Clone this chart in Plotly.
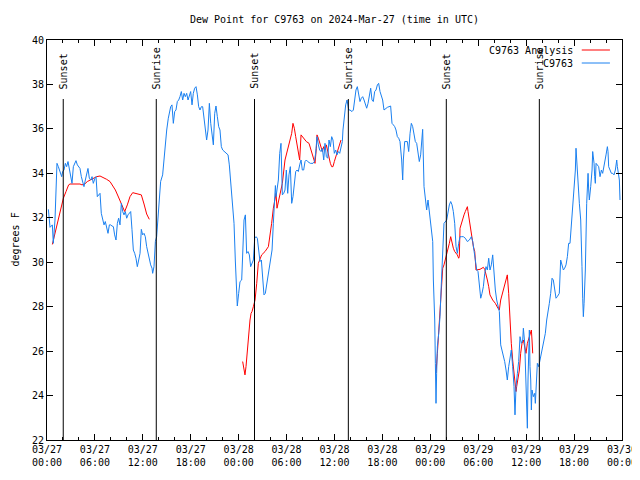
import pandas as pd
import plotly.graph_objects as go

base_time = pd.Timestamp("2024-03-27 00:00")

# ---- C9763 observations (hours after 2024-03-27 00:00 UTC, degrees F) ----
blue_hours = [
    0.17, 0.38, 0.67, 0.79, 1.00, 1.13, 1.25, 1.42, 1.54, 1.71,
    1.84, 1.96, 2.13, 2.30, 2.46, 2.63, 2.80, 2.96, 3.13, 3.30,
    3.46, 3.63, 3.80, 3.97, 4.13, 4.30, 4.47, 4.63, 4.80, 4.97,
    5.13, 5.30, 5.47, 5.64, 5.80, 6.01, 6.14, 6.30, 6.47, 6.64,
    6.80, 6.97, 7.14, 7.30, 7.47, 7.64, 7.81, 7.97, 8.14, 8.31,
    8.47, 8.64, 8.81, 8.97, 9.14, 9.31, 9.48, 9.64, 9.81, 9.98,
    10.14, 10.31, 10.48, 10.64, 10.81, 10.98, 11.14, 11.31, 11.48, 11.65,
    11.81, 11.98, 12.15, 12.31, 12.48, 12.65, 12.81, 12.98, 13.15, 13.23,
    13.40, 13.57, 13.73, 13.94, 14.07, 14.23, 14.48, 14.65, 14.82, 14.99,
    15.19, 15.32, 15.49, 15.65, 15.82, 15.99, 16.15, 16.32, 16.49, 16.65,
    16.82, 16.99, 17.16, 17.32, 17.49, 17.66, 17.82, 17.99, 18.16, 18.32,
    18.49, 18.66, 18.83, 18.99, 19.16, 19.33, 19.49, 19.66, 19.83, 19.99,
    20.16, 20.33, 20.50, 20.66, 20.83, 21.00, 21.16, 21.33, 21.50, 21.66,
    21.83, 22.00, 22.25, 22.50, 22.67, 22.83, 23.00, 23.17, 23.25, 23.42,
    23.58, 23.75, 23.83, 24.00, 24.17, 24.38, 24.50, 24.67, 24.84, 25.00,
    25.17, 25.34, 25.50, 25.67, 25.84, 26.01, 26.17, 26.34, 26.51, 26.67,
    26.84, 27.01, 27.17, 27.34, 27.51, 27.67, 27.84, 28.01, 28.18, 28.34,
    28.51, 28.60, 28.68, 28.80, 28.97, 29.14, 29.30, 29.47, 29.64, 29.80,
    29.97, 30.14, 30.30, 30.47, 30.64, 30.80, 30.97, 31.14, 31.31, 31.47,
    31.64, 31.81, 31.97, 32.14, 32.31, 32.47, 32.64, 32.97, 33.31, 33.48,
    33.64, 33.81, 33.98, 34.14, 34.31, 34.48, 34.65, 34.81, 34.98, 35.15,
    35.31, 35.48, 35.65, 35.81, 35.98, 36.15, 36.31, 36.48, 36.65, 36.81,
    36.98, 37.06, 37.23, 37.40, 37.57, 37.78, 37.94, 38.19, 38.36, 38.53,
    38.69, 38.86, 39.03, 39.19, 39.36, 39.53, 39.70, 39.86, 40.03, 40.20,
    40.36, 40.53, 40.70, 40.86, 41.03, 41.20, 41.37, 41.53, 41.70, 41.87,
    42.03, 42.20, 42.62, 43.03, 43.20, 43.37, 43.54, 43.70, 43.87, 44.04,
    44.20, 44.41, 44.54, 44.62, 44.79, 45.12, 45.29, 45.46, 45.62, 45.79,
    45.96, 46.12, 46.29, 46.46, 46.62, 46.79, 46.96, 47.04, 47.21, 47.38,
    47.54, 47.71, 47.88, 48.04, 48.13, 48.30, 48.38, 48.55, 48.63, 48.71,
    48.79, 48.88, 49.05, 49.21, 49.38, 49.55, 49.71, 50.05, 50.21, 50.38,
    50.55, 50.72, 50.88, 51.05, 51.22, 51.38, 51.55, 51.72, 51.88, 52.13,
    52.38, 52.64, 52.89, 53.14, 53.31, 53.47, 53.64, 53.81, 53.97, 54.14,
    54.31, 54.47, 54.64, 54.81, 54.97, 55.14, 55.31, 55.47, 55.64, 55.81,
    55.97, 56.14, 56.31, 56.47, 56.64, 56.81, 56.98, 57.14, 57.31, 57.48,
    57.64, 57.81, 57.98, 58.14, 58.31, 58.48, 58.60, 58.73, 58.90, 59.06,
    59.23, 59.40, 59.57, 59.65, 59.82, 59.98, 60.07, 60.15, 60.23, 60.32,
    60.40, 60.48, 60.57, 60.65, 60.73, 60.90, 61.07, 61.15, 61.23, 61.40,
    61.57, 61.74, 61.90, 62.07, 62.24, 62.40, 62.57, 62.74, 62.90, 63.07,
    63.24, 63.40, 63.57, 63.74, 63.90, 64.07, 64.15, 64.32, 64.49, 64.66,
    64.82, 64.99, 65.16, 65.32, 65.49, 65.66, 65.82, 65.99, 66.16, 66.24,
    66.32, 66.41, 66.49, 66.66, 66.83, 66.91, 66.99, 67.08, 67.16, 67.25,
    67.41, 67.58, 67.66, 67.75, 67.83, 67.91, 68.08, 68.25, 68.33, 68.50,
    68.58, 68.66, 68.75, 68.92, 69.08, 69.25, 69.42, 69.58, 69.75, 69.92,
    70.00, 70.17, 70.25, 70.33, 70.50, 70.67, 70.84, 71.00, 71.17, 71.25,
    71.34, 71.42, 71.50, 71.59, 71.67, 71.75,
]
blue_dewpt = [
    32.38, 31.57, 31.68, 30.85, 31.90, 33.18, 34.45, 34.30, 34.15, 34.00,
    33.85, 34.08, 34.15, 34.45, 34.30, 34.53, 34.15, 34.00, 33.55, 34.30,
    34.45, 34.57, 34.38, 34.30, 34.22, 33.85, 33.63, 33.40, 33.70, 34.00,
    34.22, 33.78, 33.70, 33.85, 33.55, 33.78, 33.85, 32.95, 33.03, 33.10,
    32.20, 31.98, 31.68, 31.83, 31.53, 31.30, 31.68, 31.68, 31.63, 31.60,
    31.23, 31.00, 31.75, 31.98, 31.68, 32.65, 32.28, 32.13, 32.28, 31.98,
    32.13, 32.20, 32.28, 31.48, 30.55, 30.40, 30.18, 29.80, 30.10, 30.40,
    31.48, 31.23, 31.30, 31.15, 30.70, 30.40, 30.18, 29.88, 29.73, 29.50,
    29.80, 30.93, 31.15, 32.05, 32.95, 33.63, 33.93, 34.75, 35.50, 35.95,
    36.48, 36.70, 37.00, 37.08, 36.25, 36.78, 36.85, 37.23, 37.30, 37.45,
    37.68, 37.30, 37.60, 37.45, 37.60, 37.30, 37.45, 37.68, 37.08, 37.60,
    37.83, 37.90, 37.53, 37.00, 36.85, 37.00, 37.00, 36.48, 35.95, 35.50,
    35.95, 37.15, 36.25, 35.65, 35.28, 36.70, 37.03, 36.55, 36.10, 35.95,
    35.20, 35.05, 34.98, 34.90, 34.83, 34.38, 33.55, 32.95, 32.28, 31.75,
    30.10, 28.75, 28.03, 28.60, 29.13, 29.20, 30.70, 31.90, 32.13, 30.40,
    30.48, 30.33, 29.80, 29.95, 30.10, 31.08, 31.15, 31.08, 30.48, 30.03,
    30.10, 29.20, 28.53, 28.60, 28.98, 29.43, 29.80, 30.10, 30.55, 31.75,
    32.95, 33.45, 32.95, 33.40, 33.70, 34.90, 35.35, 33.03, 33.10, 33.25,
    34.15, 33.10, 33.93, 34.30, 32.65, 32.95, 33.40, 34.08, 34.15, 34.08,
    34.38, 34.60, 34.15, 34.15, 34.53, 34.60, 34.53, 34.45, 34.45, 34.53,
    34.90, 35.65, 35.28, 35.05, 34.98, 35.13, 34.60, 35.35, 34.75, 34.68,
    35.50, 35.20, 35.65, 35.50, 34.90, 35.05, 34.83, 34.98, 34.90, 35.13,
    35.43, 35.95, 36.55, 37.08, 37.30, 36.85, 36.85, 36.78, 36.85, 37.38,
    37.75, 37.90, 37.45, 37.23, 37.38, 37.45, 37.30, 37.08, 36.93, 37.15,
    37.45, 37.83, 37.30, 37.23, 37.68, 37.75, 37.98, 38.05, 37.68, 37.53,
    37.30, 36.85, 36.97, 37.03, 36.25, 36.18, 36.10, 35.95, 35.65, 35.58,
    35.43, 34.60, 33.70, 34.60, 35.43, 35.43, 34.98, 35.80, 36.25, 36.10,
    35.80, 35.43, 35.35, 34.98, 34.53, 34.83, 35.58, 35.98, 33.40, 32.88,
    32.35, 32.80, 32.20, 31.90, 31.30, 30.93, 29.20, 27.40, 25.45, 23.65,
    25.00, 26.20, 26.80, 27.55, 29.05, 30.85, 31.75, 31.90, 32.28, 32.58,
    32.73, 32.58, 32.28, 31.75, 30.70, 30.40, 30.85, 31.15, 31.15, 31.15,
    31.08, 30.93, 31.00, 31.15, 30.93, 30.48, 30.10, 29.65, 29.58, 28.90,
    28.38, 28.60, 28.90, 29.50, 29.80, 29.65, 30.18, 29.65, 29.88, 30.33,
    29.50, 28.75, 28.30, 28.00, 27.78, 26.28, 26.05, 25.75, 25.53, 25.15,
    24.70, 25.30, 25.75, 26.05, 25.30, 24.40, 23.13, 24.40, 25.00, 25.53,
    26.65, 26.35, 26.50, 27.03, 26.35, 24.70, 23.35, 22.53, 24.70, 26.65,
    26.95, 25.30, 24.70, 23.35, 24.25, 23.95, 24.10, 23.65, 24.55, 25.45,
    25.30, 25.60, 25.90, 26.13, 26.50, 26.80, 27.40, 27.70, 28.15, 28.60,
    29.28, 29.20, 28.83, 28.38, 28.45, 28.53, 28.60, 30.10, 29.80, 29.65,
    29.73, 29.88, 30.25, 30.85, 30.85, 31.60, 32.65, 33.33, 34.15, 35.13,
    34.53, 34.30, 33.55, 32.65, 31.90, 31.15, 29.80, 28.38, 27.55, 28.15,
    29.65, 32.65, 33.25, 34.00, 33.25, 32.80, 33.40, 34.15, 34.98, 34.45,
    33.85, 33.55, 34.45, 34.38, 34.30, 33.85, 34.15, 34.00, 34.30, 34.53,
    34.83, 35.20, 34.98, 34.30, 34.15, 34.00, 34.00, 33.93, 34.15, 34.45,
    34.60, 34.30, 34.15, 33.85, 33.70, 32.80,
]

# ---- C9763 Analysis (three separate runs; None breaks the line) ----
red_hours = [
    0.67, 1.04, 1.42, 1.84, 2.05, 2.38, 2.71, 2.88, 4.13, 4.38,
    4.72, 5.05, 5.38, 5.80, 6.22, 6.64, 7.05, 7.47, 7.89, 8.22,
    8.56, 8.89, 9.22, 9.56, 9.73, 10.06, 10.39, 10.73, 11.23, 11.81,
    12.15, 12.48, 12.81,
    18.0,
    24.50, 24.67, 24.79, 24.92, 25.09, 25.30, 25.42, 25.55, 25.67, 25.84,
    26.05, 26.26, 26.46, 26.88, 27.30, 27.72, 27.92, 28.13, 28.34, 28.55,
    28.68, 28.80, 29.14, 29.47, 29.80, 30.14, 30.47, 30.64, 30.80, 30.97,
    31.14, 31.31, 31.47, 31.64, 31.81, 32.14, 32.47, 32.81, 32.97, 33.14,
    33.31, 33.56, 33.73, 33.81, 33.98, 34.14, 34.31, 34.48, 34.65, 34.81,
    34.98, 35.15, 35.31, 35.48, 35.65, 35.81, 35.98, 36.31, 36.65, 36.81,
    42.0,
    48.59, 48.71, 48.88, 49.00, 49.13, 49.21, 49.38, 49.55, 49.71, 49.88,
    50.05, 50.21, 50.38, 50.55, 50.72, 50.88, 51.05, 51.22, 51.38, 51.55,
    51.63, 51.72, 51.88, 52.05, 52.22, 52.38, 52.64, 52.72, 52.89, 53.05,
    53.22, 53.39, 53.56, 53.72, 54.22, 54.64, 54.81, 54.97, 55.14, 55.31,
    55.47, 55.81, 56.14, 56.47, 56.64, 56.81, 57.14, 57.48, 57.64, 57.81,
    57.98, 58.14, 58.31, 58.48, 58.64, 58.73, 58.81, 58.98, 59.15, 59.31,
    59.48, 59.65, 59.82, 59.98, 60.15, 60.32, 60.48, 60.65, 60.73, 60.82,
]
red_dewpt = [
    30.80, 31.38, 31.98, 32.65, 32.88, 33.18, 33.48, 33.52, 33.52, 33.48,
    33.52, 33.63, 33.70, 33.78, 33.85, 33.88, 33.82, 33.73, 33.63, 33.43,
    33.25, 32.98, 32.68, 32.35, 32.28, 32.58, 32.95, 33.13, 33.08, 33.03,
    32.62, 32.17, 31.93,
    None,
    25.53, 25.23, 24.93, 25.30, 26.05, 27.03, 27.40, 27.70, 27.78, 28.00,
    28.30, 29.05, 29.95, 30.33, 30.48, 30.70, 31.15, 31.75, 32.43, 32.95,
    33.10, 32.43, 32.95, 33.55, 34.60, 35.05, 35.58, 35.80, 36.25, 36.03,
    35.65, 35.28, 34.90, 34.60, 35.73, 35.58, 35.43, 35.35, 35.13, 34.98,
    34.78, 34.45, 35.13, 35.73, 35.58, 35.35, 35.13, 34.98, 35.20, 35.05,
    35.28, 34.98, 34.68, 34.45, 34.30, 34.30, 34.53, 34.90, 35.28, 35.50,
    None,
    25.00, 25.00, 25.90, 26.65, 27.40, 28.00, 28.90, 29.73, 29.88, 30.10,
    30.40, 30.55, 30.85, 31.15, 30.85, 30.63, 30.48, 30.40, 30.33, 30.18,
    30.25, 31.53, 31.75, 31.93, 32.13, 32.28, 32.50, 32.28, 31.83, 31.45,
    31.15, 30.70, 30.48, 29.65, 29.68, 29.77, 29.68, 29.50, 29.20, 28.90,
    28.53, 28.30, 28.15, 27.93, 27.85, 28.30, 28.75, 29.20, 29.43, 28.60,
    27.25, 26.35, 25.60, 25.00, 24.48, 24.18, 24.40, 24.70, 25.15, 25.90,
    26.35, 26.50, 26.20, 25.90, 26.35, 26.58, 26.80, 26.95, 26.50, 25.90,
]

sunset_times = ["2024-03-27 02:02", "2024-03-28 01:59", "2024-03-29 02:00"]
sunrise_times = ["2024-03-27 13:41", "2024-03-28 13:44", "2024-03-29 13:39"]

tick_times = ["2024-03-27 00:00", "2024-03-27 06:00", "2024-03-27 12:00",
              "2024-03-27 18:00", "2024-03-28 00:00", "2024-03-28 06:00",
              "2024-03-28 12:00", "2024-03-28 18:00", "2024-03-29 00:00",
              "2024-03-29 06:00", "2024-03-29 12:00", "2024-03-29 18:00",
              "2024-03-30 00:00"]
tick_labels = ["03/27<br>00:00", "03/27<br>06:00", "03/27<br>12:00",
               "03/27<br>18:00", "03/28<br>00:00", "03/28<br>06:00",
               "03/28<br>12:00", "03/28<br>18:00", "03/29<br>00:00",
               "03/29<br>06:00", "03/29<br>12:00", "03/29<br>18:00",
               "03/30<br>00:00"]
y_range = [22, 40]

title_text = "Dew Point for C9763 on 2024-Mar-27 (time in UTC)"
legend_names = ["C9763 Analysis", "C9763"]
colors = ["#ff0000", "#1a80f0"]

FONT = "DejaVu Sans Mono"
# the page body adds an 8 px offset; the figure is sized to fill the rest
FIG_W, FIG_H = 632, 472

blue_t = base_time + pd.to_timedelta(blue_hours, unit="h")
red_t = base_time + pd.to_timedelta(red_hours, unit="h")

fig = go.Figure()
fig.add_trace(go.Scatter(x=red_t, y=red_dewpt, mode="lines", name=legend_names[0],
                         line=dict(color=colors[0], width=1), connectgaps=False))
fig.add_trace(go.Scatter(x=blue_t, y=blue_dewpt, mode="lines", name=legend_names[1],
                         line=dict(color=colors[1], width=1)))

shapes = []
annotations = []
for label, times in (("Sunset", sunset_times), ("Sunrise", sunrise_times)):
    for t in times:
        shapes.append(dict(type="line", xref="x", yref="paper", x0=t, x1=t,
                           y0=0, y1=0.8525, line=dict(color="black", width=1)))
        annotations.append(dict(x=t, xref="x", y=0.872, yref="paper", text=label,
                                textangle=-90, showarrow=False, xanchor="center",
                                yanchor="bottom", font=dict(family=FONT, size=10, color="black")))

# gnuplot-style key: text right-aligned, line sample to its right
for i, (name, col) in enumerate(zip(legend_names, colors)):
    yy = 0.975 - i * 0.0325
    annotations.append(dict(x=0.918, xref="paper", y=yy, yref="paper", text=name,
                            showarrow=False, xanchor="right", yanchor="middle",
                            font=dict(family=FONT, size=10, color="black")))
    shapes.append(dict(type="line", xref="paper", yref="paper", x0=0.930, x1=0.979,
                       y0=yy, y1=yy, line=dict(color=col, width=1)))

annotations.append(dict(x=-0.0565, xref="paper", y=0.5, yref="paper", text="degrees F",
                        textangle=-90, showarrow=False, xanchor="center", yanchor="middle",
                        font=dict(family=FONT, size=10, color="black")))

fig.update_layout(
    width=FIG_W, height=FIG_H,
    margin=dict(l=39, r=18, t=32, b=40, pad=0, autoexpand=False),
    paper_bgcolor="white", plot_bgcolor="white",
    showlegend=False,
    title=dict(text=title_text, x=0.5, xref="paper", y=1 - 11 / FIG_H, yref="container",
               xanchor="center", yanchor="middle",
               font=dict(family=FONT, size=10, color="black")),
    shapes=shapes, annotations=annotations,
    font=dict(family=FONT, size=10, color="black"),
)
fig.update_xaxes(
    type="date", range=[tick_times[0], tick_times[-1]], automargin=False,
    tickmode="array", tickvals=tick_times, ticktext=tick_labels,
    ticks="inside", ticklen=6, tickcolor="black", tickwidth=1,
    minor=dict(ticks="inside", ticklen=3, dtick=2 * 3600 * 1000, tick0=tick_times[0],
               tickcolor="black", showgrid=False),
    showline=True, linecolor="black", linewidth=1, mirror="allticks",
    showgrid=False, zeroline=False,
    tickfont=dict(family=FONT, size=10, color="black"),
)
fig.update_yaxes(
    range=y_range, dtick=2, tick0=22, automargin=False,
    ticks="inside", ticklen=6, tickcolor="black", tickwidth=1,
    showline=True, linecolor="black", linewidth=1, mirror="allticks",
    showgrid=False, zeroline=False,
    tickfont=dict(family=FONT, size=10, color="black"),
)

fig.write_html("out.html")
